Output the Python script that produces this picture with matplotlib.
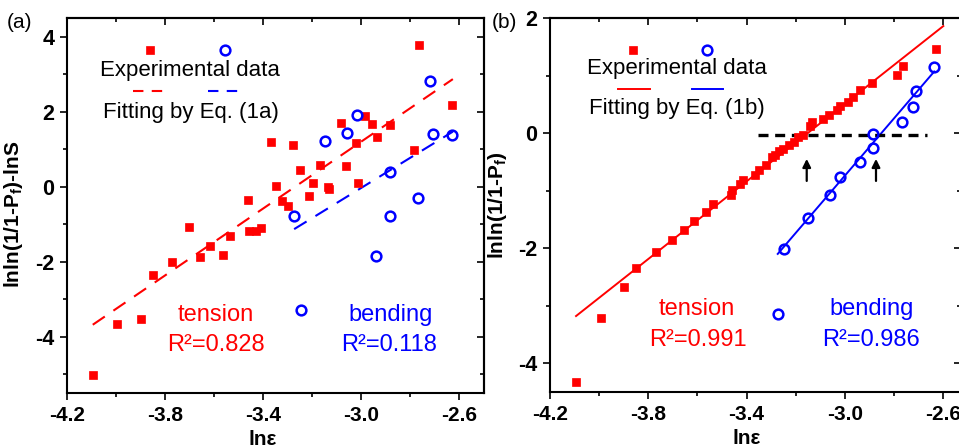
import matplotlib
matplotlib.use("Agg")
import matplotlib.pyplot as plt
from matplotlib.ticker import FixedLocator

plt.rcParams['font.family'] = ['Liberation Sans', 'DejaVu Sans']
plt.rcParams['mathtext.fontset'] = 'custom'
plt.rcParams['mathtext.rm'] = 'Liberation Sans'
plt.rcParams['mathtext.bf'] = 'Liberation Sans:bold'
plt.rcParams['axes.unicode_minus'] = False

RED = '#ff0000'
BLUE = '#0000ff'

x_ticks = [-4.2, -3.8, -3.4, -3.0, -2.6]
x_tick_labels = ['-4.2', '-3.8', '-3.4', '-3.0', '-2.6']
x_minor = [-4.0, -3.6, -3.2, -2.8]

# (a) lnln(1/(1-Pf)) - lnS against ln(strain)
a_y_ticks = [-4, -2, 0, 2, 4]
a_y_minor = [-5, -3, -1, 1, 3]
a_ten_x = [-4.095, -3.995, -3.900, -3.850, -3.772, -3.703, -3.656, -3.615, -3.566,
           -3.536, -3.462, -3.458, -3.430, -3.410, -3.367, -3.346, -3.322, -3.300,
           -3.279, -3.250, -3.213, -3.197, -3.170, -3.136, -3.133, -3.084, -3.061,
           -3.023, -3.014, -2.984, -2.955, -2.937, -2.885, -2.786, -2.763, -2.630]
a_ten_y = [-5.01, -3.66, -3.53, -2.35, -2.02, -1.07, -1.88, -1.59, -1.81,
           -1.32, -0.35, -1.17, -1.17, -1.11, 1.18, 0.03, -0.37, -0.52,
           1.12, 0.45, -0.26, 0.11, 0.57, -0.01, -0.06, 1.70, 0.54,
           1.17, 0.11, 1.89, 1.68, 1.33, 1.65, 0.98, 3.79, 2.19]
a_ben_x = [-3.274, -3.150, -3.060, -3.019, -2.939, -2.885, -2.885, -2.768, -2.719,
           -2.706, -2.632]
a_ben_y = [-0.77, 1.21, 1.43, 1.92, -1.86, 0.38, -0.77, -0.31, 2.83, 1.41, 1.38]
a_fit_ten_x = [-4.095, -2.627]
a_fit_ten_y = [-3.68, 2.87]
a_fit_ben_x = [-3.274, -2.627]
a_fit_ben_y = [-1.13, 1.47]
a_r2 = [0.828, 0.118]

# (b) lnln(1/(1-Pf)) against ln(strain)
b_y_ticks = [-4, -2, 0, 2]
b_y_minor = [-3, -1, 1]
b_ten_x = [-4.094, -3.992, -3.900, -3.850, -3.770, -3.702, -3.653, -3.612, -3.566,
           -3.535, -3.463, -3.459, -3.426, -3.413, -3.365, -3.348, -3.322, -3.297,
           -3.284, -3.266, -3.250, -3.226, -3.207, -3.189, -3.171, -3.141, -3.135,
           -3.087, -3.064, -3.033, -3.019, -2.988, -2.965, -2.938, -2.890, -2.789,
           -2.764, -2.628]
b_ten_y = [-4.32, -3.22, -2.68, -2.34, -2.07, -1.86, -1.69, -1.52, -1.37,
           -1.23, -1.08, -0.99, -0.89, -0.82, -0.73, -0.64, -0.56, -0.42,
           -0.38, -0.32, -0.27, -0.21, -0.15, -0.06, -0.03, 0.12, 0.19,
           0.24, 0.31, 0.40, 0.47, 0.54, 0.63, 0.75, 0.87, 1.01,
           1.17, 1.46]
b_ben_x = [-3.247, -3.148, -3.060, -3.019, -2.940, -2.884, -2.884, -2.768, -2.723,
           -2.710, -2.636]
b_ben_y = [-2.02, -1.47, -1.08, -0.76, -0.50, -0.26, -0.02, 0.20, 0.45, 0.73, 1.15]
b_fit_ten_x = [-4.094, -2.599]
b_fit_ten_y = [-3.18, 1.86]
b_fit_ben_x = [-3.273, -2.636]
b_fit_ben_y = [-2.10, 1.07]
b_r2 = [0.991, 0.986]
b_zero_x = [-3.354, -2.666]
b_zero_y = [-0.03, -0.03]
b_arrow_x = [-3.155, -2.873]

sq = dict(ls='none', marker='s', ms=5.6, mfc=RED, mec=RED, mew=0.5)
ci = dict(ls='none', marker='o', ms=7, mfc='none', mec=BLUE, mew=1.8)

fig = plt.figure(figsize=(9.59, 4.48), dpi=100)
ax1 = fig.add_axes([67 / 959, 55 / 448, 417 / 959, 375 / 448])
ax2 = fig.add_axes([550 / 959, 56 / 448, 411 / 959, 374 / 448])


def style_axes(ax, yt, ym):
    for s in ax.spines.values():
        s.set_linewidth(1.5)
    ax.set_xticks(x_ticks, labels=x_tick_labels, fontsize=15, fontweight='bold')
    ax.set_yticks(yt, labels=[str(v) for v in yt], fontsize=15.5, fontweight='bold')
    ax.xaxis.set_minor_locator(FixedLocator(x_minor))
    ax.yaxis.set_minor_locator(FixedLocator(ym))
    ax.tick_params(which='both', direction='out', width=1.2)
    ax.tick_params(which='major', length=5)
    ax.tick_params(which='minor', length=3)
    ax.tick_params(axis='x', pad=4)
    ax.tick_params(axis='y', pad=4)
    # mirrored ticks on top and right point inward
    sec_x = ax.secondary_xaxis('top')
    sec_y = ax.secondary_yaxis('right')
    sec_x.set_xticks(x_ticks, labels=[])
    sec_x.xaxis.set_minor_locator(FixedLocator(x_minor))
    sec_y.set_yticks(yt, labels=[])
    sec_y.yaxis.set_minor_locator(FixedLocator(ym))
    for sec in (sec_x, sec_y):
        sec.tick_params(which='both', direction='in', width=1.2)
        sec.tick_params(which='major', length=5)
        sec.tick_params(which='minor', length=3)
        for s in sec.spines.values():
            s.set_linewidth(1.5)


# panel (a)
ax1.set_xlim(-4.2, -2.5)
ax1.set_ylim(-5.5, 4.5)
ax1.plot(a_fit_ten_x, a_fit_ten_y, color=RED, lw=1.5, dashes=[7, 5])
ax1.plot(a_fit_ben_x, a_fit_ben_y, color=BLUE, lw=1.5, dashes=[7, 5])
ax1.plot(a_ten_x, a_ten_y, **sq)
ax1.plot(a_ben_x, a_ben_y, **ci)
style_axes(ax1, a_y_ticks, a_y_minor)
ax1.set_xlabel('ln\u03b5', fontsize=15, fontweight='bold')
ax1.set_ylabel(r'lnln(1/1-P$_\mathbf{f}$)-lnS', fontsize=15, fontweight='bold')
ax1.xaxis.set_label_coords(0.47, -0.098)
ax1.yaxis.set_label_coords(-0.1, 0.475)

ta = ax1.transAxes
ax1.plot([0.199], [0.915], transform=ta, clip_on=False, **sq)
ax1.plot([0.379], [0.915], transform=ta, clip_on=False, **ci)
ax1.text(0.294, 0.859, 'Experimental data', transform=ta, fontsize=16,
         ha='center', va='center')
ax1.plot([0.158, 0.240], [0.806, 0.806], transform=ta, color=RED, lw=1.5, dashes=[5, 4])
ax1.plot([0.338, 0.420], [0.806, 0.806], transform=ta, color=BLUE, lw=1.5, dashes=[5, 4])
ax1.text(0.297, 0.749, 'Fitting by Eq. (1a)', transform=ta, fontsize=16,
         ha='center', va='center')
ax1.text(0.357, 0.208, 'tension', transform=ta, fontsize=17, color=RED,
         ha='center', va='center')
ax1.text(0.357, 0.128, 'R\u00b2=%.3f' % a_r2[0], transform=ta, fontsize=17, color=RED,
         ha='center', va='center')
ax1.plot([0.561], [0.221], transform=ta, clip_on=False, **ci)
ax1.text(0.775, 0.208, 'bending', transform=ta, fontsize=17, color=BLUE,
         ha='center', va='center')
ax1.text(0.772, 0.128, 'R\u00b2=%.3f' % a_r2[1], transform=ta, fontsize=17, color=BLUE,
         ha='center', va='center')
fig.text(7 / 959, 1 - 22 / 448, '(a)', fontsize=15, va='center', ha='left')

# panel (b)
ax2.set_xlim(-4.2, -2.527)
ax2.set_ylim(-4.5, 2)
ax2.plot(b_fit_ten_x, b_fit_ten_y, color=RED, lw=1.4)
ax2.plot(b_fit_ben_x, b_fit_ben_y, color=BLUE, lw=1.4)
ax2.plot(b_zero_x, b_zero_y, color='black', lw=2.4, dashes=[3, 2])
ax2.plot(b_ten_x, b_ten_y, **sq)
ax2.plot(b_ben_x, b_ben_y, **ci)
for xa in b_arrow_x:
    ax2.annotate('', xy=(xa, -0.40), xytext=(xa, -0.88),
                 arrowprops=dict(arrowstyle='-|>', color='black', lw=1.6,
                                 mutation_scale=12))
style_axes(ax2, b_y_ticks, b_y_minor)
ax2.set_xlabel('ln\u03b5', fontsize=15, fontweight='bold')
ax2.set_ylabel(r'lnln(1/1-P$_\mathbf{f}$)', fontsize=15, fontweight='bold')
ax2.xaxis.set_label_coords(0.479, -0.098)
ax2.yaxis.set_label_coords(-0.1, 0.5)

tb = ax2.transAxes
ax2.plot([0.201], [0.914], transform=tb, clip_on=False, **sq)
ax2.plot([0.381], [0.914], transform=tb, clip_on=False, **ci)
ax2.text(0.308, 0.864, 'Experimental data', transform=tb, fontsize=16,
         ha='center', va='center')
ax2.plot([0.165, 0.243], [0.809, 0.809], transform=tb, color=RED, lw=1.4)
ax2.plot([0.345, 0.421], [0.809, 0.809], transform=tb, color=BLUE, lw=1.4)
ax2.text(0.308, 0.759, 'Fitting by Eq. (1b)', transform=tb, fontsize=16,
         ha='center', va='center')
ax2.text(0.358, 0.222, 'tension', transform=tb, fontsize=17, color=RED,
         ha='center', va='center')
ax2.text(0.360, 0.139, 'R\u00b2=%.3f' % b_r2[0], transform=tb, fontsize=17, color=RED,
         ha='center', va='center')
ax2.plot([0.555], [0.209], transform=tb, clip_on=False, **ci)
ax2.text(0.783, 0.222, 'bending', transform=tb, fontsize=17, color=BLUE,
         ha='center', va='center')
ax2.text(0.781, 0.139, 'R\u00b2=%.3f' % b_r2[1], transform=tb, fontsize=17, color=BLUE,
         ha='center', va='center')
fig.text(492 / 959, 1 - 22 / 448, '(b)', fontsize=15, va='center', ha='left')

fig.savefig('out.png', dpi=100)
